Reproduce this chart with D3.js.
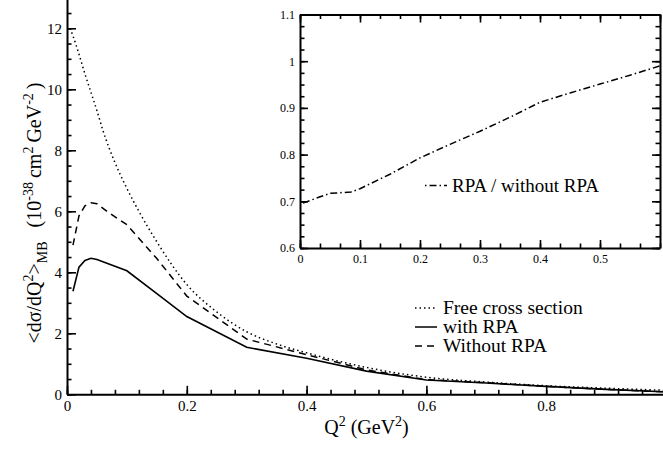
<!DOCTYPE html>
<html>
<head>
<meta charset="utf-8">
<script src="https://cdn.jsdelivr.net/npm/d3@7"></script>
<style>
    body { margin: 0; background: #fff; }
    svg { display: block; }
    svg text { font-family: "Liberation Serif", Tinos, "Times New Roman", Times, "DejaVu Serif", serif; }
</style>
</head>
<body>
<div id="chart"></div>
<script>
// Main plot: Q^2 (GeV^2) and <dsigma/dQ^2> (10^-38 cm^2 GeV^-2)
let qMain = [0.01, 0.02, 0.03, 0.04, 0.05, 0.07, 0.1, 0.15, 0.2, 0.3, 0.4, 0.5, 0.6, 0.7, 0.8, 0.9, 1.0];
let withRPA = [3.38, 4.17, 4.39, 4.46, 4.42, 4.27, 4.05, 3.30, 2.55, 1.54, 1.18, 0.76, 0.47, 0.37, 0.26, 0.16, 0.08];
let withoutRPA = [4.89, 5.85, 6.18, 6.28, 6.25, 5.95, 5.56, 4.45, 3.22, 1.81, 1.30, 0.80, 0.48, 0.38, 0.26, 0.16, 0.08];
let qFree = [0.005, 0.01, 0.02, 0.03, 0.04, 0.05, 0.06, 0.08, 0.1, 0.12, 0.15, 0.2, 0.25, 0.3, 0.35, 0.4, 0.5, 0.6, 0.7, 0.8, 0.9, 1.0];
let freeCross = [12.0, 11.75, 11.15, 10.5, 9.9, 9.3, 8.65, 7.6, 6.75, 6.0, 5.0, 3.6, 2.7, 2.05, 1.65, 1.36, 0.88, 0.56, 0.4, 0.28, 0.2, 0.13];

// Inset: ratio RPA / without RPA
let qRatio = [0.005, 0.03, 0.05, 0.085, 0.1, 0.15, 0.2, 0.25, 0.3, 0.35, 0.4, 0.45, 0.5, 0.55, 0.6];
let ratio = [0.696, 0.708, 0.717, 0.72, 0.727, 0.758, 0.793, 0.822, 0.85, 0.88, 0.912, 0.932, 0.951, 0.97, 0.99];

let mainXTicks = [0, 0.2, 0.4, 0.6, 0.8];
let mainYTicks = [0, 2, 4, 6, 8, 10, 12];
let insetXTicks = [0, 0.1, 0.2, 0.3, 0.4, 0.5];
let insetYTicks = [0.6, 0.7, 0.8, 0.9, 1, 1.1];
let legendLabels = ["Free cross section", "with RPA", "Without RPA"];
let insetLabel = "RPA / without RPA";

let width = 663, height = 449;

let svg = d3.select("#chart")
    .append("svg")
    .attr("width", width)
    .attr("height", height);

let x = d3.scaleLinear().domain([0, 1]).range([67, 666]);
let y = d3.scaleLinear().domain([0, 13]).range([394.3, -2.2]);
let ix = d3.scaleLinear().domain([0, 0.6]).range([300, 660]);
let iy = d3.scaleLinear().domain([0.6, 1.1]).range([248, 14.5]);

function addAxis(axis, transform, fontSize, minor) {
    let g = svg.append("g")
        .attr("transform", transform)
        .call(axis);
    g.attr("font-family", null).attr("font-size", fontSize);
    g.select(".domain").attr("stroke-width", 2);
    g.selectAll(".tick line").attr("stroke-width", 1.6);
    if (minor) g.select(".domain").remove();
    return g;
}

function minorTicks(lo, hi, step) {
    let t = [];
    for (let i = 0; lo + i * step <= hi + 1e-9; i++) t.push(+(lo + i * step).toFixed(4));
    return t;
}

// Main axes
addAxis(d3.axisBottom(x).tickValues(minorTicks(0, 1, 0.04)).tickSize(-4.5).tickFormat(""), "translate(0,394.3)", 15, true);
addAxis(d3.axisBottom(x).tickValues(mainXTicks).tickSizeInner(-8.5).tickSizeOuter(0).tickPadding(6)
    .tickFormat(d => String(d)), "translate(0,394.3)", 15, false);
addAxis(d3.axisLeft(y).tickValues(minorTicks(0, 13, 0.5)).tickSize(-4.5).tickFormat(""), "translate(67,0)", 15, true);
addAxis(d3.axisLeft(y).tickValues(mainYTicks).tickSizeInner(-9).tickSizeOuter(0).tickPadding(5)
    .tickFormat(d => String(d)), "translate(67,0)", 15, false);

// Main curves
let line = d3.line()
    .x(function (d) { return x(d[0]); })
    .y(function (d) { return y(d[1]); });

svg.append("path")
    .datum(qFree.map((q, i) => [q, freeCross[i]]))
    .attr("d", line.curve(d3.curveMonotoneX))
    .attr("fill", "none").attr("stroke", "#000").attr("stroke-width", 1.5)
    .attr("stroke-dasharray", "1.5,3");

line.curve(d3.curveLinear);
svg.append("path")
    .datum(qMain.map((q, i) => [q, withRPA[i]]))
    .attr("d", line)
    .attr("fill", "none").attr("stroke", "#000").attr("stroke-width", 1.6);

svg.append("path")
    .datum(qMain.map((q, i) => [q, withoutRPA[i]]))
    .attr("d", line)
    .attr("fill", "none").attr("stroke", "#000").attr("stroke-width", 1.5)
    .attr("stroke-dasharray", "7,5");

// Main legend
let dashes = ["1.5,3", null, "7,5"];
let legend = svg.selectAll(".legend")
    .data(legendLabels)
    .enter()
    .append("g")
    .attr("class", "legend")
    .attr("transform", function (d, i) {
        return "translate(415," + (314 + i * 19) + ")";
    });
legend.append("line")
    .attr("x1", 0).attr("x2", 22)
    .attr("y1", -6).attr("y2", -6)
    .attr("stroke", "#000").attr("stroke-width", 1.5)
    .attr("stroke-dasharray", (d, i) => dashes[i]);
legend.append("text")
    .attr("x", 28)
    .attr("font-size", 19.5)
    .text(d => d);

// Axis titles
let xt = svg.append("text")
    .attr("x", 366.5).attr("y", 434)
    .attr("text-anchor", "middle")
    .attr("font-size", 20);
xt.append("tspan").text("Q");
xt.append("tspan").attr("dy", -8).attr("font-size", 14).text("2");
xt.append("tspan").attr("dy", 8).text(" (GeV");
xt.append("tspan").attr("dy", -8).attr("font-size", 14).text("2");
xt.append("tspan").attr("dy", 8).text(")");

let yt = svg.append("text")
    .attr("transform", "translate(41,213) rotate(-90)")
    .attr("text-anchor", "middle")
    .attr("font-size", 20);
yt.append("tspan").text("<dσ/dQ");
yt.append("tspan").attr("dy", -8).attr("font-size", 14).text("2");
yt.append("tspan").attr("dy", 8).text(">");
yt.append("tspan").attr("dy", 6).attr("font-size", 14).text("MB");
yt.append("tspan").attr("dy", -6).attr("dx", 14).text("(10");
yt.append("tspan").attr("dy", -8).attr("font-size", 14).text("-38");
yt.append("tspan").attr("dy", 8).attr("dx", 4).text("cm");
yt.append("tspan").attr("dy", -8).attr("font-size", 14).text("2");
yt.append("tspan").attr("dy", 8).attr("dx", 4).text("GeV");
yt.append("tspan").attr("dy", -8).attr("font-size", 14).text("-2");
yt.append("tspan").attr("dy", 8).attr("dx", 4).text(")");

// Inset
svg.append("rect")
    .attr("x", ix(0)).attr("y", iy(1.1))
    .attr("width", ix(0.6) - ix(0)).attr("height", iy(0.6) - iy(1.1))
    .attr("fill", "#fff");

let ixMinor = minorTicks(0, 0.6, 0.1 / 3);
let iyMinor = minorTicks(0.6, 1.1, 0.025);

addAxis(d3.axisBottom(ix).tickValues(ixMinor).tickSize(-4.5).tickFormat(""), "translate(0," + iy(0.6) + ")", 12, true);
addAxis(d3.axisTop(ix).tickValues(ixMinor).tickSize(-4.5).tickFormat(""), "translate(0," + iy(1.1) + ")", 12, true);
addAxis(d3.axisLeft(iy).tickValues(iyMinor).tickSize(-4.5).tickFormat(""), "translate(" + ix(0) + ",0)", 12, true);
addAxis(d3.axisRight(iy).tickValues(iyMinor).tickSize(-4.5).tickFormat(""), "translate(" + ix(0.6) + ",0)", 12, true);

addAxis(d3.axisBottom(ix).tickValues(insetXTicks).tickSizeInner(-8).tickSizeOuter(0).tickPadding(6)
    .tickFormat(d => String(d)), "translate(0," + iy(0.6) + ")", 12, false);
addAxis(d3.axisTop(ix).tickValues(insetXTicks.concat([0.6])).tickSizeInner(-8).tickSizeOuter(0).tickFormat(""),
    "translate(0," + iy(1.1) + ")", 12, false);
addAxis(d3.axisLeft(iy).tickValues(insetYTicks).tickSizeInner(-8).tickSizeOuter(0).tickPadding(5)
    .tickFormat(d => String(d)), "translate(" + ix(0) + ",0)", 12, false);
addAxis(d3.axisRight(iy).tickValues(insetYTicks).tickSizeInner(-8).tickSizeOuter(0).tickFormat(""),
    "translate(" + ix(0.6) + ",0)", 12, false);

let iline = d3.line()
    .x(function (d) { return ix(d[0]); })
    .y(function (d) { return iy(d[1]); });

svg.append("path")
    .datum(qRatio.map((q, i) => [q, ratio[i]]))
    .attr("d", iline)
    .attr("fill", "none").attr("stroke", "#000").attr("stroke-width", 1.5)
    .attr("stroke-dasharray", "7,3,1.5,3");

svg.append("line")
    .attr("x1", 425).attr("x2", 447)
    .attr("y1", 185.5).attr("y2", 185.5)
    .attr("stroke", "#000").attr("stroke-width", 1.5)
    .attr("stroke-dasharray", "1.5,3,7,3");
svg.append("text")
    .attr("x", 452).attr("y", 192)
    .attr("font-size", 19)
    .text(insetLabel);
</script>
</body>
</html>
